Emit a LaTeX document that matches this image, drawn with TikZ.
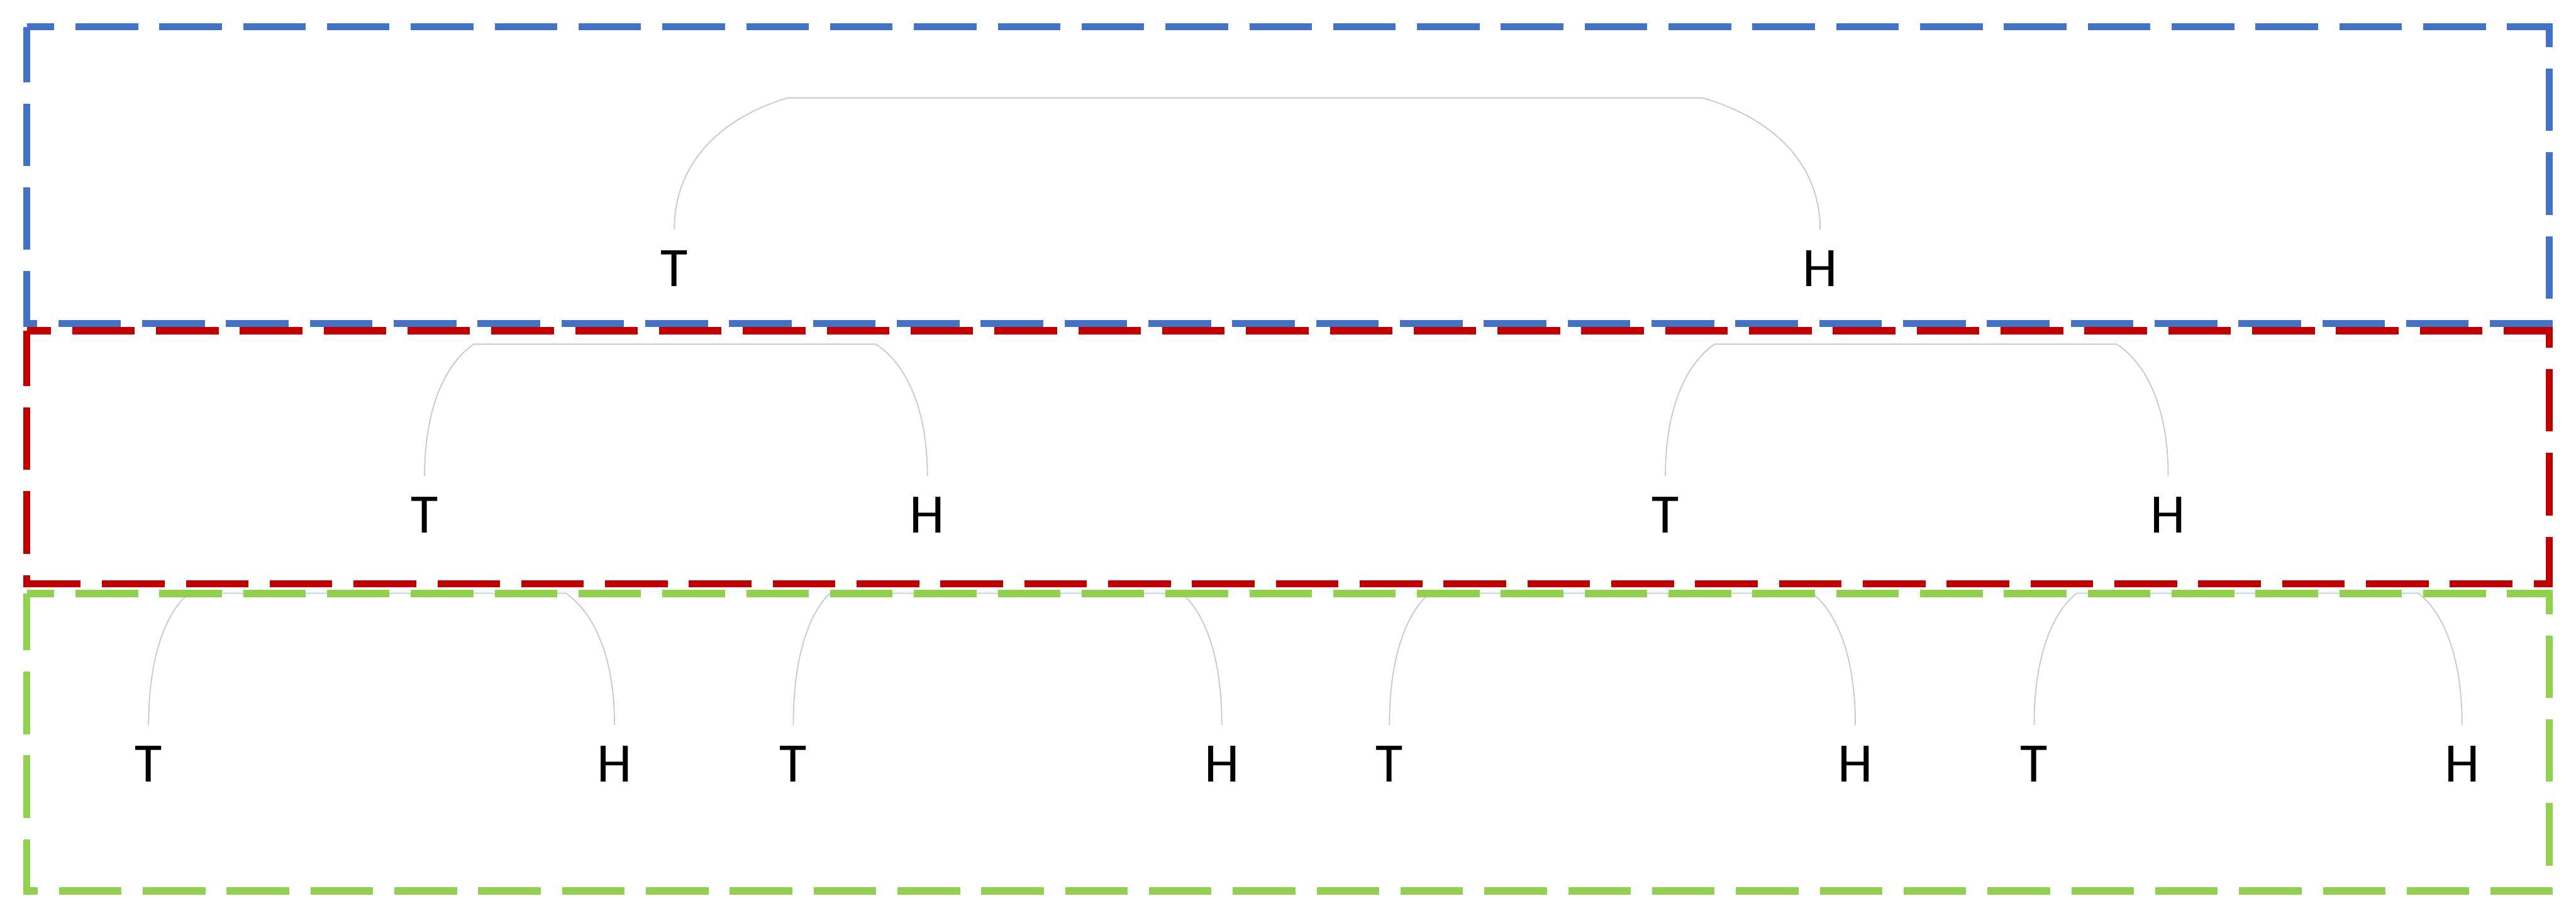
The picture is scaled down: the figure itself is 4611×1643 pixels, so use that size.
\documentclass[tikz,border=0pt]{standalone}
\usepackage{fontspec}
\setmainfont{Carlito}
\definecolor{boxblue}{HTML}{4472C4}
\definecolor{boxred}{HTML}{C00000}
\definecolor{boxgreen}{HTML}{92D050}
\definecolor{arcgray}{HTML}{C8C8C8}
\tikzset{
  lvlbox/.style={line width=0.13cm, dash pattern=on 1.12cm off 0.38cm, dash phase=0.63cm},
  lbl/.style={anchor=base, inner xsep=0pt, inner ysep=0.37cm, text depth=0pt,
    font=\fontsize{28.4}{34}\selectfont},
  arcline/.style={draw=arcgray, line width=0.02cm},
}
\newcommand{\tharc}[4]{%
  \draw[arcline] (#1.north) .. controls +(0,-129) and +(-0.531*#3,32) ..
    ([shift={(#3,-236)}]#1.north) -- ([shift={(-#4,-236)}]#2.north)
    .. controls +(0.531*#4,32) and +(0,-129) .. (#2.north);}
\begin{document}
\begin{tikzpicture}[x=0.01cm, y=-0.01cm]
\useasboundingbox (0,0) rectangle (4611,1643);
% labels
\node[lbl] (t0)  at (1207,513) {T};
\node[lbl] (h0)  at (3258,513) {H};
\node[lbl] (t1)  at (760,954)  {T};
\node[lbl] (h1)  at (1660,954) {H};
\node[lbl] (t2)  at (2981,954) {T};
\node[lbl] (h2)  at (3881,954) {H};
\node[lbl] (t3)  at (266,1400)  {T};
\node[lbl] (h3)  at (1100,1400) {H};
\node[lbl] (t4)  at (1420,1400) {T};
\node[lbl] (h4)  at (2187,1400) {H};
\node[lbl] (t5)  at (2487,1400) {T};
\node[lbl] (h5)  at (3321,1400) {H};
\node[lbl] (t6)  at (3641,1400) {T};
\node[lbl] (h6)  at (4407,1400) {H};
% arcs
\tharc{t0}{h0}{203}{211}
\tharc{t1}{h1}{88}{92}
\tharc{t2}{h2}{88}{92}
\tharc{t3}{h3}{72}{87}
\tharc{t4}{h4}{66}{72}
\tharc{t5}{h5}{72}{77}
\tharc{t6}{h6}{76}{78}
% level boxes
\draw[lvlbox, boxblue] (48,48) -- (4563,48) -- (4563,579) -- (48,579) -- cycle;
\draw[lvlbox, boxred, dash phase=0.69cm] (48,592) -- (4563,592) -- (4563,1045) -- (48,1045) -- cycle;
\draw[lvlbox, boxgreen] (48,1063) -- (4563,1063) -- (4563,1595) -- (48,1595) -- cycle;
\end{tikzpicture}
\end{document}
